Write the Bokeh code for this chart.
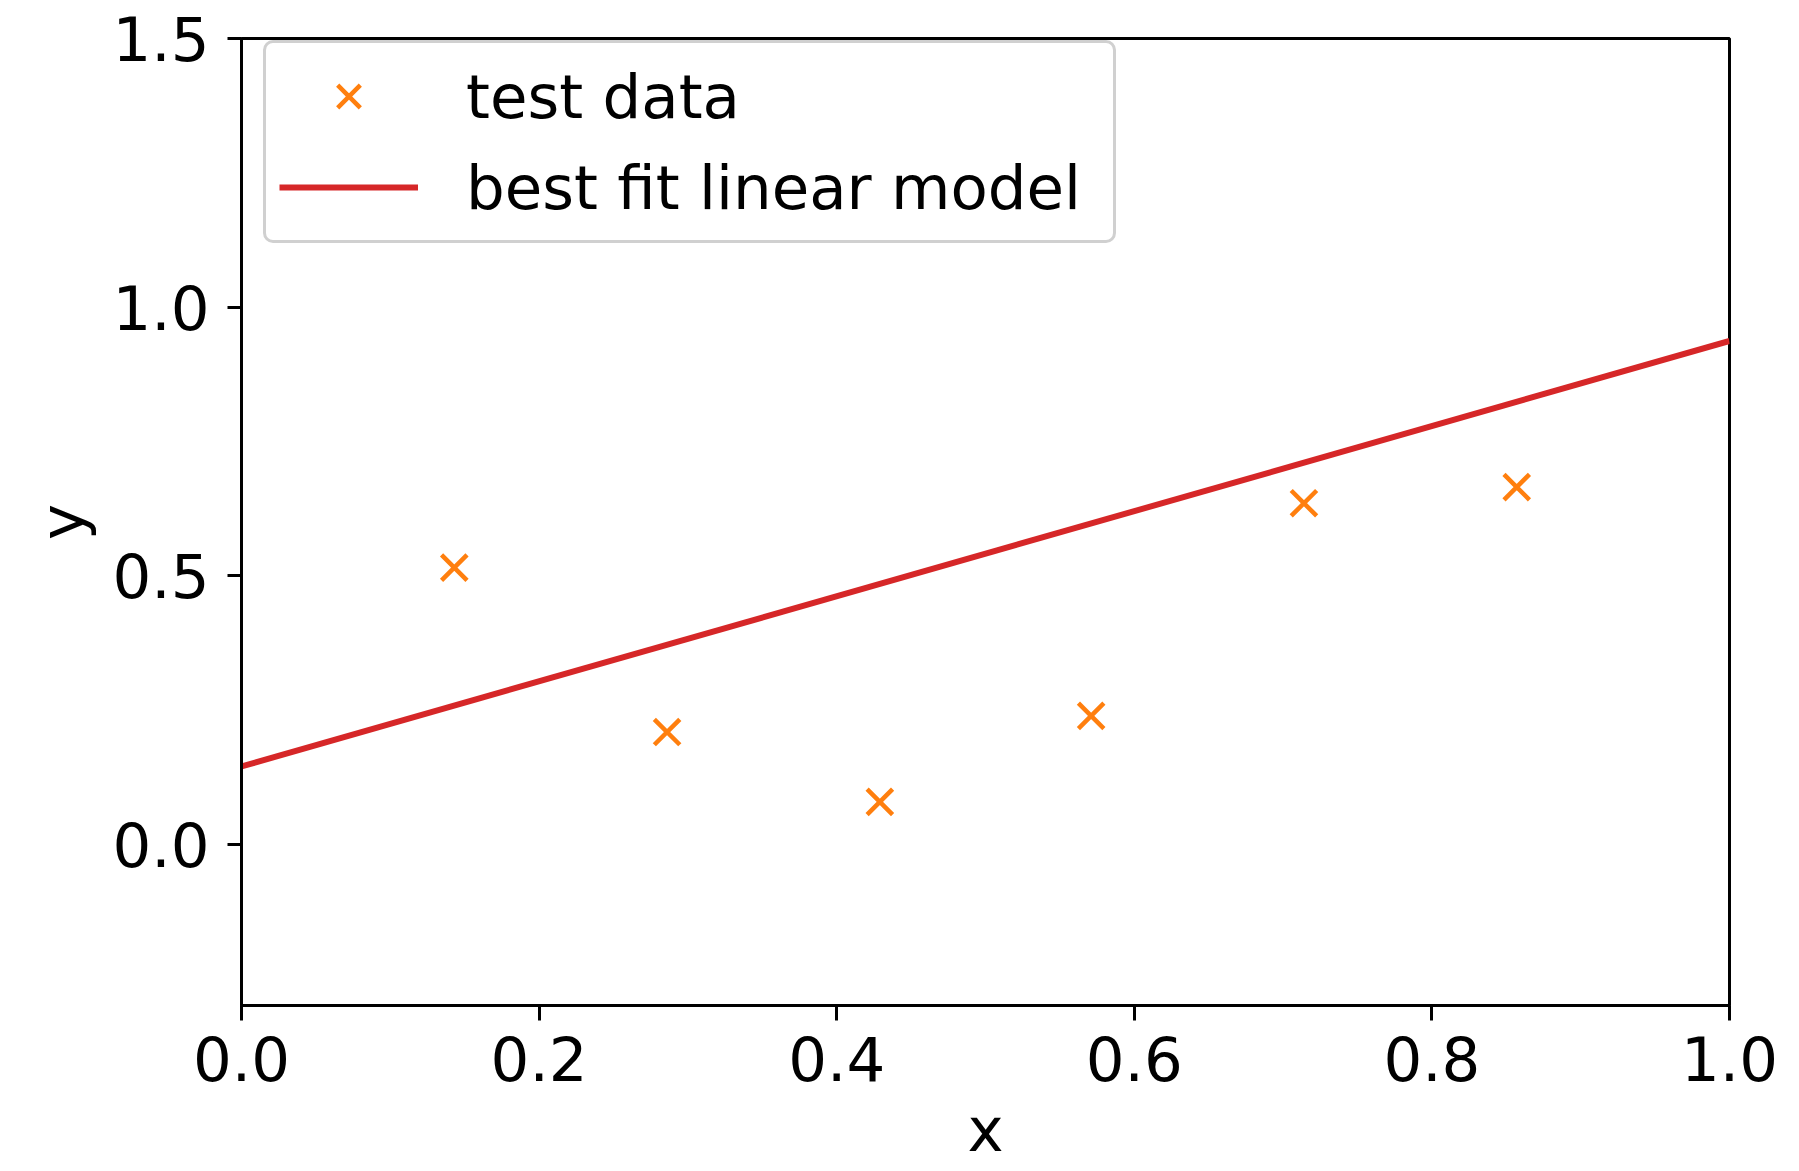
from bokeh.plotting import figure
from bokeh.models import FixedTicker, Range1d, Legend, LegendItem, NumeralTickFormatter
from bokeh.embed import file_html
from bokeh.resources import INLINE

# data
test_x = [0.143, 0.286, 0.429, 0.571, 0.714, 0.857]
test_y = [0.515, 0.209, 0.079, 0.239, 0.635, 0.665]
fit_x = [0.0, 1.0]
fit_y = [0.145, 0.937]
x_ticks = [0.0, 0.2, 0.4, 0.6, 0.8, 1.0]
y_ticks = [0.0, 0.5, 1.0, 1.5]

FONT = "DejaVu Sans"
FS = "61px"

p = figure(width=1799, height=1171, x_range=Range1d(0, 1), y_range=Range1d(-0.3, 1.5),
           output_backend="svg", toolbar_location=None,
           min_border_left=241, min_border_right=70, min_border_top=38, min_border_bottom=166)
p.grid.visible = False
p.outline_line_color = "black"
p.outline_line_width = 3
p.outline_line_alpha = 1
p.background_fill_color = "white"
p.border_fill_color = "white"

r_line = p.line(fit_x, fit_y, line_color="#d62728", line_width=6)
r_sc = p.scatter(test_x, test_y, marker="x", size=36, line_color="#ff7f0e", line_width=4.5)

for ax, ticks in ((p.xaxis[0], x_ticks), (p.yaxis[0], y_ticks)):
    ax.ticker = FixedTicker(ticks=ticks)
    ax.formatter = NumeralTickFormatter(format="0.0")
    ax.major_label_text_font = FONT
    ax.major_label_text_font_size = FS
    ax.major_label_text_color = "black"
    ax.axis_label_text_font = FONT
    ax.axis_label_text_font_size = FS
    ax.axis_label_text_font_style = "normal"
    ax.axis_label_text_color = "black"
    ax.axis_line_width = 3
    ax.axis_line_color = "black"
    ax.major_tick_line_width = 3
    ax.major_tick_line_color = "black"
    ax.major_tick_in = 0
    ax.minor_tick_in = 0
    ax.minor_tick_out = 0

p.xaxis.axis_label = "x"
p.xaxis.major_tick_out = 15
p.xaxis.major_label_standoff = 15
p.xaxis.axis_label_standoff = 10

p.yaxis.axis_label = "y"
p.yaxis.major_tick_out = 14
p.yaxis.major_label_standoff = 18
p.yaxis.axis_label_standoff = 12

legend = Legend(items=[LegendItem(label="test data", renderers=[r_sc]),
                       LegendItem(label="best fit linear model", renderers=[r_line])],
                location=(22, 762),
                label_text_font=FONT, label_text_font_size=FS, label_text_color="black",
                glyph_width=139, glyph_height=80, label_standoff=48, label_width=634,
                padding=13, spacing=11, margin=0,
                border_line_color="#d0d0d0", border_line_width=3, border_line_alpha=1,
                border_radius=10,
                background_fill_color="white", background_fill_alpha=0.8)
p.add_layout(legend, "center")

open("out.html", "w").write(file_html(p, INLINE))
